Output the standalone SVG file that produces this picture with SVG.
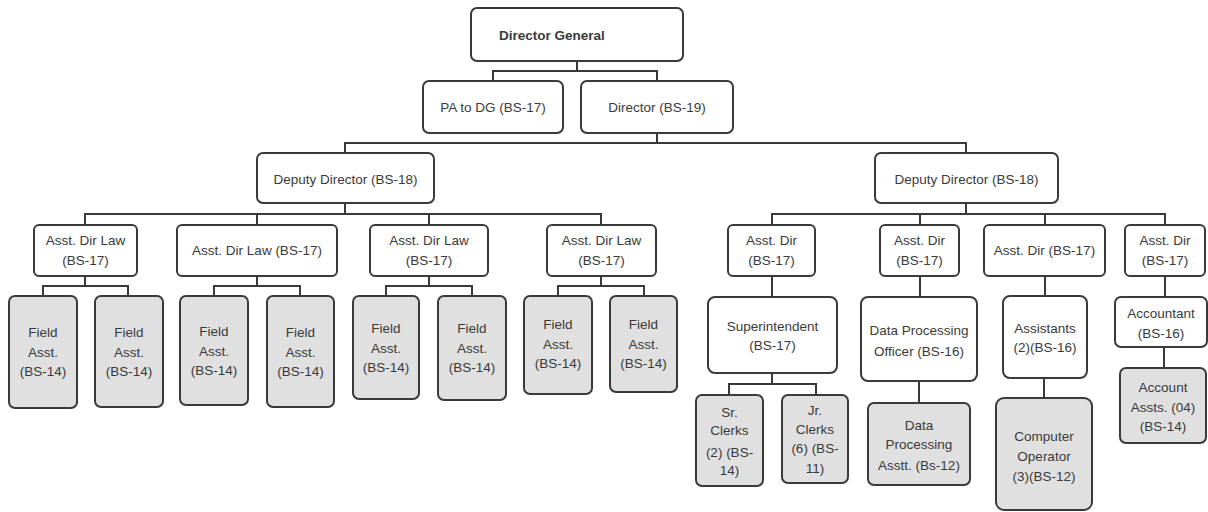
<svg xmlns="http://www.w3.org/2000/svg" width="1208" height="512" viewBox="0 0 1208 512">
<style>
.b{fill:#fff;stroke:#3a3a3a;stroke-width:2}
.g{fill:#e0e0e0;stroke:#3a3a3a;stroke-width:2}
text{font-family:"Liberation Sans",Arial,sans-serif;font-size:13.5px;fill:#3a3a3a;text-anchor:middle}
.c{fill:none;stroke:#3a3a3a;stroke-width:2}
</style>
<rect width="1208" height="512" fill="#fff"/>
<g id="connectors" class="c">
<path d="M577 61V71M493 81V71H657V81"/>
<path d="M657 133V143H345V153M657 143H966V153"/>
<path d="M345 203V214M85 225V214H601V225M257 214V225M429 214V225"/>
<path d="M966 203V214M772 225V214H1165V225M920 214V225M1045 214V225"/>
<path d="M85 276V286M43 296V286H128V296"/>
<path d="M257 276V286M214 296V286H300V296"/>
<path d="M429 276V286M386 296V286H472V296"/>
<path d="M601 276V286M558 296V286H644V296"/>
<path d="M772 276V297M772 373V384M729 395V384H816V395"/>
<path d="M920 276V297M919 381V403"/>
<path d="M1045 276V296M1044 378V398"/>
<path d="M1165 276V297M1164 347V368"/>
</g>
<g id="dg"><rect class="b" x="471" y="8" width="212" height="53" rx="6"/><text x="499" y="40" style="text-anchor:start;font-weight:bold">Director General</text></g>
<g id="pa"><rect class="b" x="423" y="81" width="140" height="52" rx="6"/><text x="493" y="112">PA to DG (BS-17)</text></g>
<g id="director"><rect class="b" x="581" y="81" width="152" height="52" rx="6"/><text x="657" y="112">Director (BS-19)</text></g>
<g id="dd1"><rect class="b" x="257" y="153" width="177" height="50" rx="6"/><text x="345.5" y="184">Deputy Director (BS-18)</text></g>
<g id="dd2"><rect class="b" x="875" y="153" width="183" height="50" rx="6"/><text x="966.5" y="184">Deputy Director (BS-18)</text></g>
<g id="adl1"><rect class="b" x="34" y="225" width="103" height="51" rx="5"/><text x="85.5" y="245">Asst. Dir Law</text><text x="85.5" y="265">(BS-17)</text></g>
<g id="adl2"><rect class="b" x="177" y="225" width="160" height="51" rx="5"/><text x="257" y="255">Asst. Dir Law (BS-17)</text></g>
<g id="adl3"><rect class="b" x="370" y="225" width="118" height="51" rx="5"/><text x="429" y="245">Asst. Dir Law</text><text x="429" y="265">(BS-17)</text></g>
<g id="adl4"><rect class="b" x="547" y="225" width="109" height="51" rx="5"/><text x="601.5" y="245">Asst. Dir Law</text><text x="601.5" y="265">(BS-17)</text></g>
<g id="f1"><rect class="g" x="9" y="296" width="68" height="112" rx="6"/><text x="43" y="337">Field</text><text x="43" y="356.5">Asst.</text><text x="43" y="376">(BS-14)</text></g>
<g id="f2"><rect class="g" x="95" y="296" width="68" height="111" rx="6"/><text x="129" y="337">Field</text><text x="129" y="356.5">Asst.</text><text x="129" y="376">(BS-14)</text></g>
<g id="f3"><rect class="g" x="180" y="296" width="68" height="109" rx="6"/><text x="214" y="336">Field</text><text x="214" y="355.5">Asst.</text><text x="214" y="375">(BS-14)</text></g>
<g id="f4"><rect class="g" x="267" y="296" width="67" height="111" rx="6"/><text x="300.5" y="337">Field</text><text x="300.5" y="356.5">Asst.</text><text x="300.5" y="376">(BS-14)</text></g>
<g id="f5"><rect class="g" x="353" y="296" width="66" height="103" rx="6"/><text x="386" y="333">Field</text><text x="386" y="352.5">Asst.</text><text x="386" y="372">(BS-14)</text></g>
<g id="f6"><rect class="g" x="438" y="296" width="68" height="104" rx="6"/><text x="472" y="333">Field</text><text x="472" y="352.5">Asst.</text><text x="472" y="372">(BS-14)</text></g>
<g id="f7"><rect class="g" x="524" y="296" width="68" height="98" rx="6"/><text x="558" y="329">Field</text><text x="558" y="348.5">Asst.</text><text x="558" y="368">(BS-14)</text></g>
<g id="f8"><rect class="g" x="610" y="296" width="67" height="96" rx="6"/><text x="643.5" y="329">Field</text><text x="643.5" y="348.5">Asst.</text><text x="643.5" y="368">(BS-14)</text></g>
<g id="ad1"><rect class="b" x="728" y="225" width="87" height="51" rx="5"/><text x="771.5" y="245">Asst. Dir</text><text x="771.5" y="265">(BS-17)</text></g>
<g id="ad2"><rect class="b" x="880" y="225" width="79" height="51" rx="5"/><text x="919.5" y="245">Asst. Dir</text><text x="919.5" y="265">(BS-17)</text></g>
<g id="ad3"><rect class="b" x="984" y="225" width="121" height="51" rx="5"/><text x="1044.5" y="255">Asst. Dir (BS-17)</text></g>
<g id="ad4"><rect class="b" x="1125" y="225" width="80" height="51" rx="5"/><text x="1165" y="245">Asst. Dir</text><text x="1165" y="265">(BS-17)</text></g>
<g id="sup"><rect class="b" x="708" y="297" width="129" height="76" rx="7"/><text x="772.5" y="330.5">Superintendent</text><text x="772.5" y="350">(BS-17)</text></g>
<g id="src"><rect class="g" x="696" y="395" width="67" height="91" rx="6"/><text x="729.5" y="416.5">Sr.</text><text x="729.5" y="435">Clerks</text><text x="729.5" y="456.5">(2) (BS-</text><text x="729.5" y="475">14)</text></g>
<g id="jrc"><rect class="g" x="782" y="395" width="66" height="88" rx="6"/><text x="815" y="415">Jr.</text><text x="815" y="433.5">Clerks</text><text x="815" y="453">(6) (BS-</text><text x="815" y="473">11)</text></g>
<g id="dpo"><rect class="b" x="861" y="297" width="116" height="84" rx="7"/><text x="919" y="335">Data Processing</text><text x="919" y="356">Officer (BS-16)</text></g>
<g id="dpa"><rect class="g" x="868" y="403" width="102" height="82" rx="6"/><text x="919" y="430">Data</text><text x="919" y="449">Processing</text><text x="919" y="470">Asstt. (Bs-12)</text></g>
<g id="ast"><rect class="b" x="1003" y="296" width="84" height="82" rx="7"/><text x="1045" y="332.5">Assistants</text><text x="1045" y="352">(2)(BS-16)</text></g>
<g id="co"><rect class="g" x="996" y="398" width="96" height="112" rx="8"/><text x="1044" y="441">Computer</text><text x="1044" y="460.5">Operator</text><text x="1044" y="481">(3)(BS-12)</text></g>
<g id="acc"><rect class="b" x="1115" y="297" width="92" height="50" rx="6"/><text x="1161" y="317.5">Accountant</text><text x="1161" y="337.5">(BS-16)</text></g>
<g id="aa"><rect class="g" x="1120" y="368" width="86" height="75" rx="6"/><text x="1163" y="391.5">Account</text><text x="1163" y="411.5">Assts. (04)</text><text x="1163" y="431">(BS-14)</text></g>
</svg>
